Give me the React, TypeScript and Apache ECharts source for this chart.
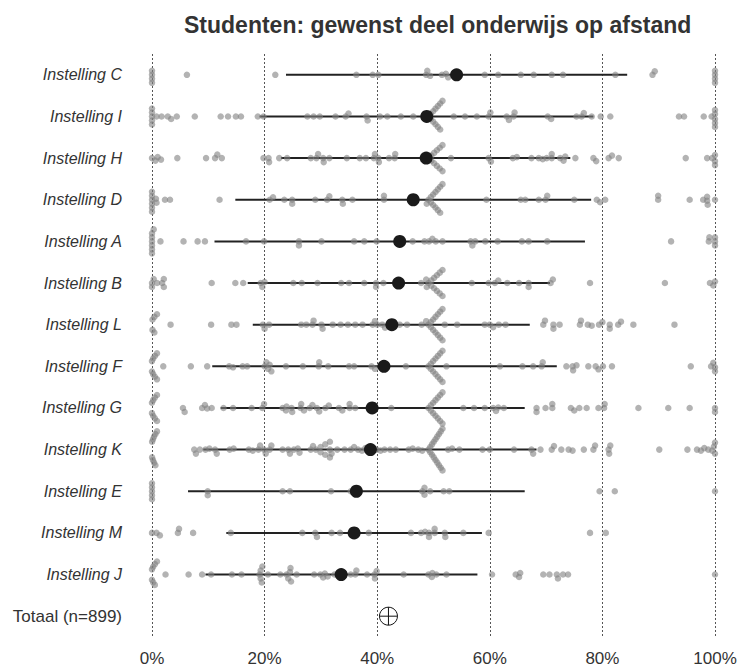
import React, { useEffect, useRef } from "react";
import * as echarts from "echarts";

const W = 741;
const H = 669;

const title = "Studenten: gewenst deel onderwijs op afstand";

const categories = [
  "Instelling C", "Instelling I", "Instelling H", "Instelling D", "Instelling A",
  "Instelling B", "Instelling L", "Instelling F", "Instelling G", "Instelling K",
  "Instelling E", "Instelling M", "Instelling J", "Totaal (n=899)",
];

const tickValues = [0, 20, 40, 60, 80, 100];

// mean per institution (%)
const means = [54.1, 48.8, 48.7, 46.4, 44.0, 43.8, 42.6, 41.2, 39.1, 38.8, 36.3, 35.9, 33.6];
// horizontal line: low and high end (%)
const rangeLow = [23.8, 19.1, 22.9, 14.8, 11.1, 17.0, 17.9, 10.7, 12.2, 9.1, 6.4, 13.2, 9.5];
const rangeHigh = [84.4, 78.4, 74.3, 78.0, 76.9, 70.7, 67.1, 71.9, 66.2, 68.3, 66.2, 58.6, 57.8];
const totalMean = 42.0;

// individual answers (%)
const valuesC = [0, 0, 0, 0, 6.2, 21.9, 36.3, 39.2, 40.2, 48.7, 48.9, 49.4, 51.5, 52.2, 52.6, 59.1, 61.5, 65.5, 67.8, 71.0, 73.0, 82.3, 88.9, 89.3, 100, 100, 100, 100];
const valuesI = [0, 0, 0, 0, 0, 0.8, 1.7, 2.8, 3.4, 4.4, 7.6, 12.2, 13.5, 14.9, 15.8, 18.8, 19.8, 27.6, 28.7, 29.8, 32.6, 34.4, 34.9, 38.1, 38.3, 40.5, 41.8, 44.2, 46.4,
  50, 50, 50, 50, 50, 50, 50, 50, 50, 50, 50, 50,
  53.6, 55.6, 57.7, 59.8, 60.1, 63.0, 63.4, 64.2, 64.4, 70.3, 70.9, 75.4, 76.3, 76.7, 78.1, 79.7, 81.4, 93.6, 94.5, 98.0, 99.4, 100, 100, 100, 100, 100];
const valuesH = [0, 0.6, 1.0, 1.6, 4.5, 9.6, 11.2, 11.6, 12.4, 19.8, 20.7, 20.8, 22.6, 24.0, 28.2, 29.2, 29.5, 30.4, 30.5, 31.5, 34.6, 36.9, 38.0, 39.4, 39.6, 40.2, 40.3, 42.1, 43.1, 43.2,
  50, 50, 50, 50, 50, 50, 50, 50, 50, 50, 50,
  53.1, 59.8, 60.2, 64.1, 64.8, 67.4, 68.7, 69.4, 70.1, 71.0, 71.0, 72.5, 73.1, 73.4, 75.2, 78.4, 78.9, 81.1, 81.7, 82.9, 94.8, 98.6, 99.5, 100, 100, 100];
const valuesD = [0, 0, 0, 0, 0, 0, 0.7, 0.8, 2.3, 3.2, 12.0, 20.9, 21.5, 23.5, 24.9, 24.9, 29.0, 31.1, 31.5, 33.8, 33.9, 35.6, 41.2, 41.2, 48.8,
  50, 50, 50, 50, 50, 50, 50, 50, 50, 50, 50, 50,
  59.4, 65.5, 66.3, 68.7, 69.9, 70.2, 75.0, 79.0, 79.6, 80.5, 89.9, 89.9, 95.5, 97.9, 98.6, 98.6, 98.7, 100];
const valuesA = [0, 0, 0, 0, 0, 0, 0.3, 1.5, 5.6, 8.1, 9.4, 16.7, 19.9, 26.1, 26.1, 30.1, 35.9, 37.7, 39.9, 46.3, 48.4, 49.2, 49.8, 50.4, 51.6, 56.6, 56.9, 57.4, 59.2, 61.4, 65.7, 66.9, 70.2, 92.2, 98.9, 99.0, 100, 100, 100];
const valuesB = [0, 0, 0.3, 0.9, 1.8, 2.1, 2.1, 10.6, 14.8, 16.2, 19.3, 19.6, 20.0, 25.1, 26.6, 29.4, 33.6, 35.0, 37.7, 39.8, 39.8, 41.1, 47.8, 48.7, 48.8,
  50, 50, 50, 50, 50, 50, 50, 50, 50, 50, 50,
  56.8, 59.8, 60.9, 61.5, 63.1, 65.2, 66.9, 66.9, 70.8, 71.2, 77.8, 91.1, 99.1, 99.7, 100];
const valuesL = [0, 0, 0, 0, 0, 0, 0, 0, 3.3, 10.5, 14.1, 15.0, 19.7, 20.0, 20.8, 26.5, 27.4, 28.5, 28.7, 30.1, 30.3, 32.1, 33.5, 34.8, 36.1, 37.4, 39.2, 39.6, 40.0, 40.9, 41.4, 42.5, 44.0, 45.3, 47.9, 48.7,
  50, 50, 50, 50, 50, 50, 50, 50, 50, 50, 50, 50, 50,
  52.0, 54.2, 59.1, 60.0, 60.6, 61.6, 62.8, 69.5, 69.8, 71.3, 71.3, 72.4, 76.0, 76.2, 77.4, 78.1, 79.4, 80.0, 81.3, 81.3, 82.8, 83.3, 85.5, 92.8];
const valuesF = [0, 0, 0, 0, 0, 0, 0, 0, 0, 0, 0, 2.0, 6.9, 9.8, 13.7, 14.4, 16.1, 16.9, 20.0, 20.3, 20.6, 20.9, 21.2, 23.8, 26.8, 29.6, 29.7, 31.3, 35.0, 35.9, 39.0, 39.6, 45.1,
  50, 50, 50, 50, 50, 50, 50, 50, 50, 50, 50, 50, 50,
  52.3, 61.8, 65.8, 67.7, 69.2, 69.4, 73.6, 74.7, 74.8, 75.4, 77.5, 78.8, 79.3, 80.1, 81.7, 95.7, 99.3, 99.7, 100, 100];
const valuesG = [0, 0, 0, 0, 0, 0, 0, 0, 0, 0, 0, 5.5, 5.8, 8.9, 9.4, 9.8, 10.6, 12.7, 14.4, 17.7, 19.6, 19.9, 23.2, 23.8, 23.9, 24.8, 24.9, 26.4, 26.5, 27.0, 28.0, 28.5, 29.3, 29.7, 30.8, 31.4, 33.2, 33.8, 35.1, 35.1, 36.1, 42.5,
  50, 50, 50, 50, 50, 50, 50, 50, 50, 50, 50, 50, 50,
  55.3, 57.2, 59.1, 60.6, 61.1, 61.5, 62.5, 68.3, 68.3, 69.9, 71.1, 71.1, 74.4, 75.0, 75.9, 77.2, 79.3, 80.3, 80.4, 86.4, 91.7, 95.5, 100, 100];
const valuesK = [0, 0, 0, 0, 0, 0, 0, 0, 0, 0, 0, 0, 0, 0,
  7.5, 7.8, 8.5, 9.5, 10.2, 11.2, 11.5, 13.8, 14.5, 17.2, 17.9, 18.9, 19.2, 19.9, 20.2, 20.9, 21.2, 23.2, 24.2, 24.5, 25.2, 25.9, 26.2, 28.2, 28.6,
  30, 30, 30, 30, 30, 30, 30,
  31.6, 31.9, 32.9, 34.2, 35.3, 35.9, 36.6, 37.3, 37.9, 39.9, 40.6, 41.3, 42.3, 43.3, 45.6, 46.3, 47.3, 48.0,
  50, 50, 50, 50, 50, 50, 50, 50, 50, 50, 50, 50, 50, 50, 50, 50, 50,
  52.6, 53.3, 54.6, 58.7, 60.0, 64.3, 67.4, 67.7, 69.0, 71.0, 71.4, 72.7, 74.0, 74.7, 76.7, 78.4, 78.7, 81.1, 81.2, 81.4, 90.1, 95.1, 96.8, 97.5, 98.1, 98.8, 99.5, 99.8, 100, 100];
const valuesE = [0, 0, 0, 0, 0, 9.9, 9.9, 23.2, 24.5, 31.8, 35.3, 48.0, 48.4, 48.4, 49.4, 51.8, 52.8, 79.5, 82.2, 100];
const valuesM = [0, 0.8, 1.4, 4.6, 4.8, 7.3, 14.0, 26.7, 29.0, 29.3, 31.9, 33.4, 38.5, 46.0, 47.8, 48.5, 49.2, 49.2, 50.2, 50.2, 52.0, 52.1, 55.3, 59.8, 77.8, 80.6];
const valuesJ = [0, 0, 0, 0, 0, 0, 0, 0, 0, 0, 2.4, 6.5, 8.9, 10.5, 14.2, 15.9, 19.1, 19.3, 19.3, 19.5, 19.6, 20.6, 22.8, 23.9, 24.2, 24.5, 24.6, 24.7, 25.7, 28.8, 29.9, 30.4, 30.7, 31.2, 32.4, 35.3, 36.1, 36.3, 38.2, 39.5, 39.6, 39.9, 44.7, 49.1, 49.7, 49.8, 50.5, 52.3, 60.4, 64.6, 65.2, 65.4, 69.5, 70.6, 71.9, 72.1, 73.0, 73.9, 100];

const rowValues = [valuesC, valuesI, valuesH, valuesD, valuesA, valuesB, valuesL, valuesF, valuesG, valuesK, valuesE, valuesM, valuesJ];

// ---------- layout (beeswarm) ----------
const GRID = { left: 152, right: 26, top: 54, bottom: 32 };
const pxPerPct = (W - GRID.left - GRID.right) / 100;
const pxPerRow = (H - GRID.top - GRID.bottom) / categories.length;
const COLLIDE = 4.0;
const TIE_STEP = 2.6;
const TIE_MIN = 7;

function swarmRow(values: number[], row: number): number[][] {
  const placed: { x: number; y: number }[] = [];
  const counts = new Map<number, number>();
  values.forEach((v) => counts.set(v, (counts.get(v) || 0) + 1));
  const rest: number[] = [];
  values.forEach((v) => { if ((counts.get(v) || 0) < TIE_MIN) rest.push(v); });
  counts.forEach((n, v) => {
    if (n < TIE_MIN) return;
    const J = Math.ceil((n - 1) / 2);
    for (let k = 0; k < n; k++) {
      const j = Math.ceil(k / 2);
      const sign = k % 2 === 1 ? -1 : 1;
      const t = J > 0 ? j / J : 0;
      let shift: number;
      if (v <= 0 || v >= 100) {
        const dir = v <= 0 ? 1 : -1;
        shift = dir * (-1 + 6 * t * t);
      } else {
        shift = -5 + 14 * t;
      }
      placed.push({ x: v * pxPerPct + shift, y: sign * j * TIE_STEP });
    }
  });
  rest.sort((a, b) => a - b);
  let flip = 1;
  rest.forEach((v) => {
    const x = v * pxPerPct;
    const near = placed.filter((p) => Math.abs(p.x - x) < COLLIDE);
    let chosen = 0;
    for (let s = 0; s <= 60; s++) {
      const cands = s === 0 ? [0] : [flip * s * 0.5, -flip * s * 0.5];
      let ok: number | null = null;
      for (const y of cands) {
        if (near.every((p) => Math.hypot(p.x - x, p.y - y) >= COLLIDE)) { ok = y; break; }
      }
      if (ok !== null) { chosen = ok; break; }
    }
    if (chosen !== 0) flip = -flip;
    placed.push({ x, y: chosen });
  });
  return placed.map((p) => [p.x / pxPerPct, row + p.y / pxPerRow]);
}

export default function App() {
  const ref = useRef<HTMLDivElement>(null);
  useEffect(() => {
    document.body.style.margin = "0";
    if (!ref.current) return;
    const chart = echarts.init(ref.current, null, { renderer: "svg" });
    const points: number[][] = [];
    rowValues.forEach((vals, i) => swarmRow(vals, i).forEach((p) => points.push(p)));
    const rangeData = means.map((_, i) => [rangeLow[i], rangeHigh[i], i]);
    const meanData = means.map((m, i) => [m, i]);
    const font = "'Liberation Sans', Arial, sans-serif";
    chart.setOption({
      animation: false,
      backgroundColor: "#ffffff",
      title: {
        text: title,
        left: 179,
        top: 8,
        textStyle: { fontFamily: font, fontSize: 23, fontWeight: "bold", color: "#333333" },
      },
      grid: { ...GRID, containLabel: false },
      xAxis: {
        type: "value",
        min: tickValues[0],
        max: tickValues[tickValues.length - 1],
        interval: tickValues[1] - tickValues[0],
        axisLine: { show: false },
        axisTick: { show: false },
        axisLabel: { formatter: "{value}%", fontSize: 17, color: "#333333", fontFamily: font, margin: 13 },
        splitLine: { show: true, lineStyle: { type: [2, 2], color: "#555555", width: 1 } },
      },
      yAxis: [
        {
          type: "category",
          data: categories,
          inverse: true,
          axisLine: { show: false },
          axisTick: { show: false },
          splitLine: { show: false },
          axisLabel: {
            margin: 30,
            formatter: (v: string) => (v.indexOf("Totaal") === 0 ? `{n|${v}}` : `{i|${v}}`),
            rich: {
              i: { fontStyle: "italic", fontSize: 16, color: "#333333", fontFamily: font },
              n: { fontSize: 17, color: "#333333", fontFamily: font },
            },
          },
        },
        { type: "value", min: -0.5, max: categories.length - 0.5, inverse: true, show: false },
      ],
      series: [
        {
          type: "custom",
          yAxisIndex: 1,
          data: rangeData,
          encode: { x: [0, 1], y: 2 },
          renderItem: (_p: any, api: any) => {
            const a = api.coord([api.value(0), api.value(2)]);
            const b = api.coord([api.value(1), api.value(2)]);
            return {
              type: "line",
              shape: { x1: a[0], y1: a[1], x2: b[0], y2: b[1] },
              style: { stroke: "#222222", lineWidth: 2 },
            };
          },
          z: 2,
        },
        {
          type: "scatter",
          yAxisIndex: 1,
          data: points,
          symbol: "circle",
          symbolSize: 6.5,
          itemStyle: { color: "rgba(128,128,128,0.6)", opacity: 1 },
          z: 3,
        },
        {
          type: "scatter",
          yAxisIndex: 1,
          data: meanData,
          symbol: "circle",
          symbolSize: 13,
          itemStyle: { color: "#1a1a1a", opacity: 1 },
          z: 4,
        },
        {
          type: "custom",
          yAxisIndex: 1,
          data: [[totalMean, categories.length - 1]],
          renderItem: (_p: any, api: any) => {
            const c = api.coord([api.value(0), api.value(1)]);
            const r = 9;
            const st = { stroke: "#111111", lineWidth: 1, fill: null };
            return {
              type: "group",
              children: [
                { type: "circle", shape: { cx: c[0], cy: c[1], r }, style: { ...st, fill: "none" } },
                { type: "line", shape: { x1: c[0] - r, y1: c[1], x2: c[0] + r, y2: c[1] }, style: st },
                { type: "line", shape: { x1: c[0], y1: c[1] - r, x2: c[0], y2: c[1] + r }, style: st },
              ],
            };
          },
          z: 4,
        },
      ],
    });
    return () => chart.dispose();
  }, []);
  return <div ref={ref} style={{ position: "fixed", left: 0, top: 0, width: W, height: H }} />;
}
